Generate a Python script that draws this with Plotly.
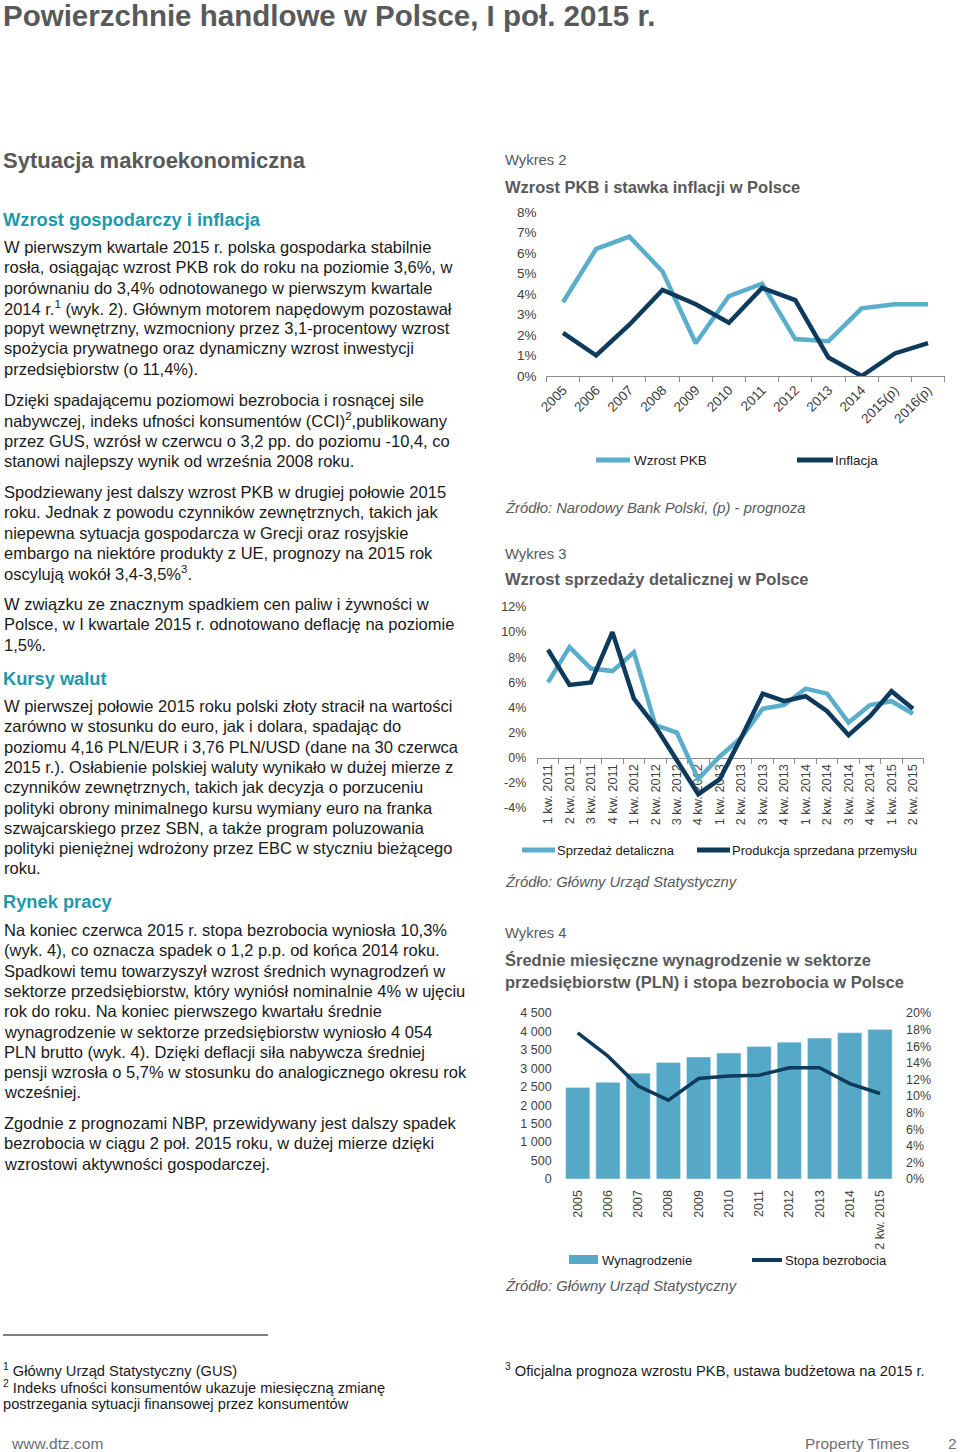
import plotly.graph_objects as go

W, H = 960, 1452
FONT = "Liberation Sans, Arial, Helvetica, sans-serif"
LIGHT = "#5AADCB"
BAR = "#56A9C6"
DARK = "#0E3A5C"
GRAY = "#58595B"
TEAL = "#1E98AB"
TXT = "#1A1A1A"
TICK = "#404040"

# ---------- data ----------
years_2 = ["2005", "2006", "2007", "2008", "2009", "2010", "2011", "2012",
           "2013", "2014", "2015(p)", "2016(p)"]
gdp_growth = [3.6, 6.2, 6.8, 5.1, 1.6, 3.9, 4.5, 1.8, 1.7, 3.3, 3.5, 3.5]
inflation = [2.1, 1.0, 2.5, 4.2, 3.5, 2.6, 4.3, 3.7, 0.9, 0.0, 1.1, 1.6]
y2_ticks = [0, 1, 2, 3, 4, 5, 6, 7, 8]
y2_labels = ["0%", "1%", "2%", "3%", "4%", "5%", "6%", "7%", "8%"]

quarters_3 = ["1 kw. 2011", "2 kw. 2011", "3 kw. 2011", "4 kw. 2011",
              "1 kw. 2012", "2 kw. 2012", "3 kw. 2012", "4 kw. 2012",
              "1 kw. 2013", "2 kw. 2013", "3 kw. 2013", "4 kw. 2013",
              "1 kw. 2014", "2 kw. 2014", "3 kw. 2014", "4 kw. 2014",
              "1 kw. 2015", "2 kw. 2015"]
retail_sales = [6.0, 8.8, 7.1, 6.9, 8.4, 2.6, 2.0, -1.7, 0.1, 1.6, 3.9, 4.2,
                5.5, 5.1, 2.8, 4.2, 4.5, 3.5]
industrial_output = [8.6, 5.8, 6.0, 10.0, 4.7, 2.5, -0.2, -2.9, -1.7, 1.6, 5.1,
                     4.5, 4.9, 3.7, 1.8, 3.3, 5.3, 3.9]
y3_ticks = [-4, -2, 0, 2, 4, 6, 8, 10, 12]
y3_labels = ["-4%", "-2%", "0%", "2%", "4%", "6%", "8%", "10%", "12%"]

years_4 = ["2005", "2006", "2007", "2008", "2009", "2010", "2011", "2012",
           "2013", "2014", "2 kw. 2015"]
wages = [2480, 2620, 2870, 3160, 3305, 3415, 3595, 3710, 3820, 3965, 4054]
unemployment = [17.6, 14.8, 11.2, 9.5, 12.1, 12.4, 12.5, 13.4, 13.4, 11.5, 10.3]
y4_ticks = [0, 500, 1000, 1500, 2000, 2500, 3000, 3500, 4000, 4500]
y4_labels = ["0", "500", "1 000", "1 500", "2 000", "2 500", "3 000", "3 500",
             "4 000", "4 500"]
y4r_ticks = [0, 2, 4, 6, 8, 10, 12, 14, 16, 18, 20]
y4r_labels = ["0%", "2%", "4%", "6%", "8%", "10%", "12%", "14%", "16%", "18%", "20%"]


def px(x):
    return x / W


def py(y):
    return 1 - y / H


fig = go.Figure()

# Chart 2
fig.add_trace(go.Scatter(x=years_2, y=gdp_growth, mode="lines", name="Wzrost PKB",
                         line=dict(color=LIGHT, width=4.5), xaxis="x", yaxis="y",
                         showlegend=False))
fig.add_trace(go.Scatter(x=years_2, y=inflation, mode="lines", name="Inflacja",
                         line=dict(color=DARK, width=4.5), xaxis="x", yaxis="y",
                         showlegend=False))
# Chart 3
fig.add_trace(go.Scatter(x=quarters_3, y=retail_sales, mode="lines",
                         name="Sprzedaż detaliczna",
                         line=dict(color=LIGHT, width=4.5), xaxis="x2", yaxis="y2",
                         showlegend=False))
fig.add_trace(go.Scatter(x=quarters_3, y=industrial_output, mode="lines",
                         name="Produkcja sprzedana przemysłu",
                         line=dict(color=DARK, width=4.5), xaxis="x2", yaxis="y2",
                         showlegend=False))
# Chart 4
fig.add_trace(go.Bar(x=years_4, y=wages, name="Wynagrodzenie", marker=dict(color=BAR),
                     xaxis="x3", yaxis="y3", showlegend=False))
fig.add_trace(go.Scatter(x=years_4, y=unemployment, mode="lines", name="Stopa bezrobocia",
                         line=dict(color=DARK, width=3.5), xaxis="x3", yaxis="y4",
                         showlegend=False))

axfont = dict(family=FONT, color=TICK)

fig.update_layout(
    width=W, height=H,
    autosize=False,
    margin=dict(l=0, r=0, t=0, b=0, pad=0, autoexpand=False),
    paper_bgcolor="white", plot_bgcolor="rgba(0,0,0,0)",
    font=dict(family=FONT, color=TXT),
    bargap=0.2,
    xaxis=dict(domain=[px(546.4), px(944.6)], anchor="y", type="category",
               range=[-0.5, 11.5], showline=True, linecolor="#8C8C8C", linewidth=1,
               ticks="outside", tickson="boundaries", ticklen=5, tickcolor="#8C8C8C",
               tickangle=-45, tickfont=dict(size=13.5, **axfont), showgrid=False,
               zeroline=False, automargin=False),
    yaxis=dict(domain=[py(376), py(212)], anchor="x", range=[0, 8],
               tickvals=y2_ticks, ticktext=y2_labels, showgrid=False, zeroline=False,
               showline=False, ticks="", ticklabelstandoff=9, automargin=False,
               tickfont=dict(size=13.5, **axfont)),
    xaxis2=dict(domain=[px(537.3), px(923.7)], anchor="free", position=py(758),
                type="category", range=[-0.5, 17.5], showline=True,
                linecolor="#8C8C8C", linewidth=1, ticks="outside", tickson="boundaries",
                ticklen=5, tickcolor="#8C8C8C", tickangle=-90,
                tickfont=dict(size=12.8, **axfont), showgrid=False, zeroline=False,
                layer="below traces", automargin=False),
    yaxis2=dict(domain=[py(808), py(607)], anchor="x2", range=[-4, 12],
                tickvals=y3_ticks, ticktext=y3_labels, showgrid=False, zeroline=False,
                showline=False, ticks="", ticklabelstandoff=10, automargin=False,
                tickfont=dict(size=12.5, **axfont)),
    xaxis3=dict(domain=[px(562.6), px(895.1)], anchor="y3", type="category",
                range=[-0.5, 10.5], showline=False, ticks="outside", ticklen=5,
                tickcolor="rgba(0,0,0,0)", tickangle=-90, automargin=False,
                tickfont=dict(size=12.5, **axfont), showgrid=False, zeroline=False),
    yaxis3=dict(domain=[py(1179), py(1013)], anchor="x3", range=[0, 4500],
                tickvals=y4_ticks, ticktext=y4_labels, showgrid=False, zeroline=False,
                showline=False, ticks="", ticklabelstandoff=10, automargin=False,
                tickfont=dict(size=12.5, **axfont)),
    yaxis4=dict(overlaying="y3", anchor="x3", side="right", range=[0, 20],
                tickvals=y4r_ticks, ticktext=y4r_labels, showgrid=False, zeroline=False,
                showline=False, ticks="", ticklabelstandoff=10, automargin=False,
                tickfont=dict(size=12.5, **axfont)),
)

annotations = []
shapes = []


def text(x, y, s, size, color=TXT, anchor="left"):
    annotations.append(dict(xref="paper", yref="paper", x=px(x), y=py(y), text=s,
                            showarrow=False, xanchor=anchor, yanchor="middle",
                            font=dict(family=FONT, size=size, color=color),
                            borderpad=0))


def para(lines, y0, size=16.5, dy=20.3, x=3):
    for i, ln in enumerate(lines):
        text(x, y0 + i * dy, ln, size)


# Headings
text(2, 15, "<b>Powierzchnie handlowe w Polsce, I poł. 2015 r.</b>", 29.5, GRAY)
text(2, 161, "<b>Sytuacja makroekonomiczna</b>", 22, GRAY)
text(2, 219, "<b>Wzrost gospodarczy i inflacja</b>", 18.3, TEAL)

para(["W pierwszym kwartale 2015 r. polska gospodarka stabilnie",
      "rosła, osiągając wzrost PKB rok do roku na poziomie 3,6%, w",
      "porównaniu do 3,4% odnotowanego w pierwszym kwartale",
      "2014 r.<sup>1</sup> (wyk. 2). Głównym motorem napędowym pozostawał",
      "popyt wewnętrzny, wzmocniony przez 3,1-procentowy wzrost",
      "spożycia prywatnego oraz dynamiczny wzrost inwestycji",
      "przedsiębiorstw (o 11,4%)."], 247)
para(["Dzięki spadającemu poziomowi bezrobocia i rosnącej sile",
      "nabywczej, indeks ufności konsumentów (CCI)<sup>2</sup>,publikowany",
      "przez GUS, wzrósł w czerwcu o 3,2 pp. do poziomu -10,4, co",
      "stanowi najlepszy wynik od września 2008 roku."], 400)
para(["Spodziewany jest dalszy wzrost PKB w drugiej połowie 2015",
      "roku. Jednak z powodu czynników zewnętrznych, takich jak",
      "niepewna sytuacja gospodarcza w Grecji oraz rosyjskie",
      "embargo na niektóre produkty z UE, prognozy na 2015 rok",
      "oscylują wokół 3,4-3,5%<sup>3</sup>."], 492)
para(["W związku ze znacznym spadkiem cen paliw i żywności w",
      "Polsce, w I kwartale 2015 r. odnotowano deflację na poziomie",
      "1,5%."], 604)
text(2, 678, "<b>Kursy walut</b>", 18.3, TEAL)
para(["W pierwszej połowie 2015 roku polski złoty stracił na wartości",
      "zarówno w stosunku do euro, jak i dolara, spadając do",
      "poziomu 4,16 PLN/EUR i 3,76 PLN/USD (dane na 30 czerwca",
      "2015 r.). Osłabienie polskiej waluty wynikało w dużej mierze z",
      "czynników zewnętrznych, takich jak decyzja o porzuceniu",
      "polityki obrony minimalnego kursu wymiany euro na franka",
      "szwajcarskiego przez SBN, a także program poluzowania",
      "polityki pieniężnej wdrożony przez EBC w styczniu bieżącego",
      "roku."], 706)
text(2, 901, "<b>Rynek pracy</b>", 18.3, TEAL)
para(["Na koniec czerwca 2015 r. stopa bezrobocia wyniosła 10,3%",
      "(wyk. 4), co oznacza spadek o 1,2 p.p. od końca 2014 roku.",
      "Spadkowi temu towarzyszył wzrost średnich wynagrodzeń w",
      "sektorze przedsiębiorstw, który wyniósł nominalnie 4% w ujęciu",
      "rok do roku. Na koniec pierwszego kwartału średnie",
      "wynagrodzenie w sektorze przedsiębiorstw wyniosło 4 054",
      "PLN brutto (wyk. 4). Dzięki deflacji siła nabywcza średniej",
      "pensji wzrosła o 5,7% w stosunku do analogicznego okresu rok",
      "wcześniej."], 930)
para(["Zgodnie z prognozami NBP, przewidywany jest dalszy spadek",
      "bezrobocia w ciągu 2 poł. 2015 roku, w dużej mierze dzięki",
      "wzrostowi aktywności gospodarczej."], 1123)

# Right column chart texts
text(504, 160, "Wykres 2", 14.8, GRAY)
text(504, 187, "<b>Wzrost PKB i stawka inflacji w Polsce</b>", 16.5, GRAY)
text(504, 508, "<i>Źródło: Narodowy Bank Polski, (p) - prognoza</i>", 14.8, GRAY)
text(504, 554, "Wykres 3", 14.8, GRAY)
text(504, 579, "<b>Wzrost sprzedaży detalicznej w Polsce</b>", 16.5, GRAY)
text(504, 882, "<i>Źródło: Główny Urząd Statystyczny</i>", 14.8, GRAY)
text(504, 933, "Wykres 4", 14.8, GRAY)
text(504, 960, "<b>Średnie miesięczne wynagrodzenie w sektorze</b>", 16.5, GRAY)
text(504, 982, "<b>przedsiębiorstw (PLN) i stopa bezrobocia w Polsce</b>", 16.5, GRAY)
text(504, 1286, "<i>Źródło: Główny Urząd Statystyczny</i>", 14.8, GRAY)


def leg_line(x0, x1, y, color, width=5):
    shapes.append(dict(type="line", xref="paper", yref="paper", x0=px(x0), x1=px(x1),
                       y0=py(y), y1=py(y), line=dict(color=color, width=width)))


leg_line(596, 630, 460, LIGHT)
text(633, 460, "Wzrost PKB", 13.5)
leg_line(797, 833, 460, DARK)
text(834, 460, "Inflacja", 13.5)

leg_line(522, 555, 850, LIGHT)
text(556, 850, "Sprzedaż detaliczna", 13)
leg_line(697, 730, 850, DARK)
text(731, 850, "Produkcja sprzedana przemysłu", 13)

shapes.append(dict(type="rect", xref="paper", yref="paper", x0=px(569), x1=px(598),
                   y0=py(1264), y1=py(1255), fillcolor=BAR, line=dict(width=0)))
text(601, 1260, "Wynagrodzenie", 13)
leg_line(752, 782, 1260, DARK, 4)
text(784, 1260, "Stopa bezrobocia", 13)

# Footnotes
shapes.append(dict(type="line", xref="paper", yref="paper", x0=px(3), x1=px(268),
                   y0=py(1335), y1=py(1335), line=dict(color="#000000", width=1)))
text(2, 1370, "<sup>1</sup> Główny Urząd Statystyczny (GUS)", 14.7)
text(2, 1387, "<sup>2</sup> Indeks ufności konsumentów ukazuje miesięczną zmianę", 14.7)
text(2, 1404, "postrzegania sytuacji finansowej przez konsumentów", 14.7)
text(504, 1370, "<sup>3</sup> Oficjalna prognoza wzrostu PKB, ustawa budżetowa na 2015 r.", 14.7)

# Footer
text(10, 1443, "www.dtz.com", 15.5, "#6D6E71")
text(910, 1443, "Property Times", 15.5, "#6D6E71", anchor="right")
text(952, 1443, "2", 15.5, "#6D6E71", anchor="center")

fig.update_layout(annotations=annotations, shapes=shapes)
fig.write_html(
    "out.html",
    config={"displayModeBar": False},
    post_script="document.body.style.margin='0';document.body.style.padding='0';"
                "document.documentElement.style.overflow='hidden';",
)
